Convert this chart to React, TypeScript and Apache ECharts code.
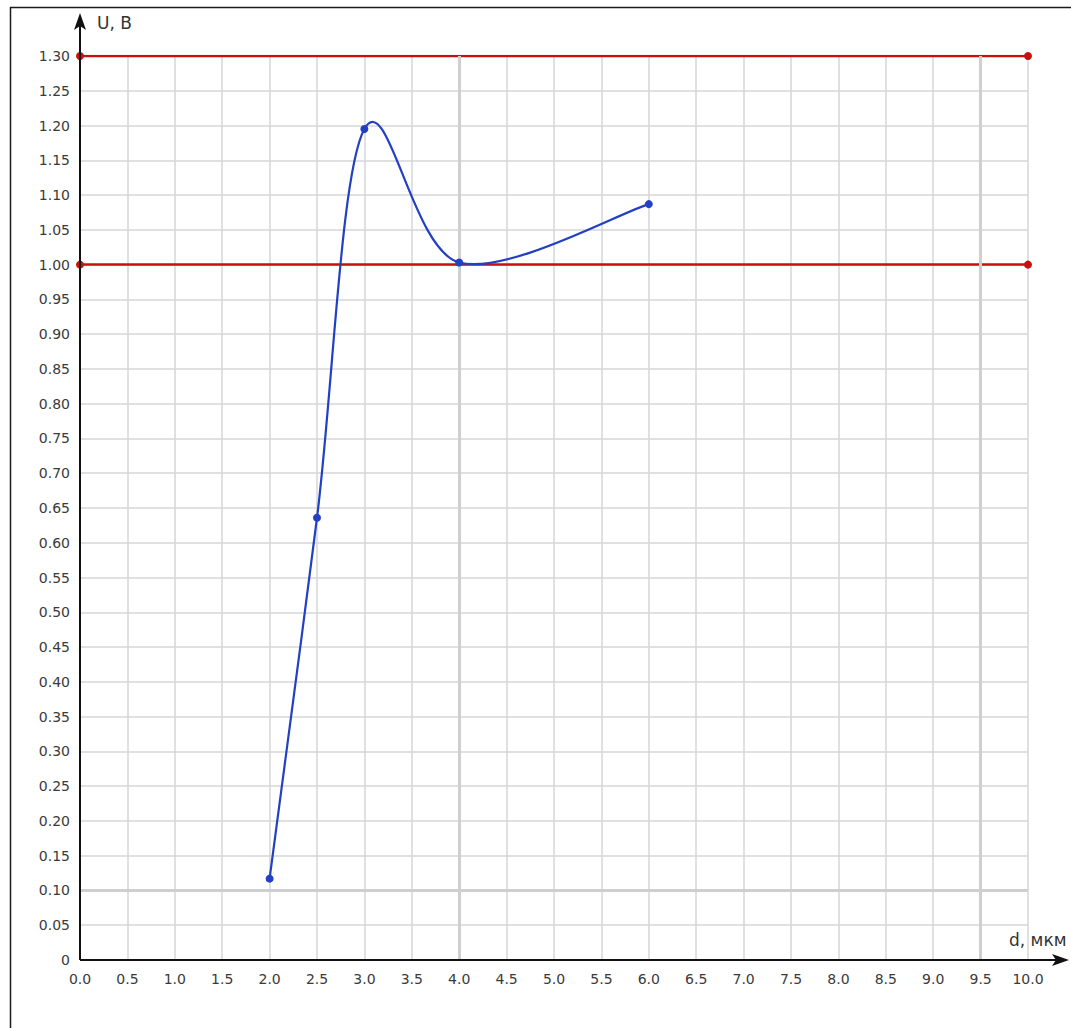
import React, { useEffect, useRef } from "react";
import * as echarts from "echarts";

const dValues = [2.0, 2.5, 3.0, 4.0, 6.0];
const uValues = [0.117, 0.636, 1.195, 1.003, 1.087];
const upperLimit = 1.3;
const lowerLimit = 1.0;
const xRange = [0, 10];
const yRange = [0, 1.3];
const thickX = [4.0, 9.5];
const thickY = [0.1];

const FONT = "Verdana, 'DejaVu Sans', sans-serif";
const BLUE = "#2340c4";
const RED = "#c8100f";

function catmullRomPath(pts: number[][]): string {
  if (!pts.length) return "";
  let d = `M${pts[0][0]},${pts[0][1]}`;
  for (let i = 0; i < pts.length - 1; i++) {
    const p0 = pts[i - 1] || pts[i];
    const p1 = pts[i];
    const p2 = pts[i + 1];
    const p3 = pts[i + 2] || pts[i + 1];
    const c1x = p1[0] + (p2[0] - p0[0]) / 6;
    const c1y = p1[1] + (p2[1] - p0[1]) / 6;
    const c2x = p2[0] - (p3[0] - p1[0]) / 6;
    const c2y = p2[1] - (p3[1] - p1[1]) / 6;
    d += ` C${c1x},${c1y} ${c2x},${c2y} ${p2[0]},${p2[1]}`;
  }
  return d;
}

export default function App() {
  const ref = useRef<HTMLDivElement>(null);
  useEffect(() => {
    if (!ref.current) return;
    const chart = echarts.init(ref.current, undefined, { renderer: "svg" });
    const gridL = 80, gridR = 43, gridT = 56, gridB = 68;
    const H = 1028;
    const axisY = H - gridB;
    const points = dValues.map((d, i) => [d, uValues[i]]);
    chart.setOption({
      animation: false,
      backgroundColor: "#fff",
      grid: { left: gridL, right: gridR, top: gridT, bottom: gridB },
      xAxis: {
        type: "value",
        min: xRange[0],
        max: xRange[1],
        interval: 0.5,
        axisLine: { show: false },
        axisTick: { show: false },
        splitLine: { show: true, lineStyle: { color: "#d6d6d6", width: 1.5 } },
        axisLabel: {
          margin: 12,
          color: "#3a3a3a",
          fontFamily: FONT,
          fontSize: 14,
          formatter: (v: number) => v.toFixed(1),
        },
      },
      yAxis: {
        type: "value",
        min: yRange[0],
        max: yRange[1],
        interval: 0.05,
        axisLine: { show: false },
        axisTick: { show: false },
        splitLine: { show: true, lineStyle: { color: "#d6d6d6", width: 1.5 } },
        axisLabel: {
          margin: 10,
          color: "#3a3a3a",
          fontFamily: FONT,
          fontSize: 14,
          formatter: (v: number) => (v === 0 ? "0" : v.toFixed(2)),
        },
      },
      series: [
        {
          type: "line",
          data: [],
          silent: true,
          markLine: {
            silent: true,
            symbol: ["none", "none"],
            label: { show: false },
            lineStyle: { color: "#cfcfcf", width: 3, type: "solid" },
            data: [
              ...thickX.map((x) => ({ xAxis: x })),
              ...thickY.map((y) => ({ yAxis: y })),
            ],
          },
          z: 1,
        },
        {
          type: "line",
          data: [
            [xRange[0], upperLimit],
            [xRange[1], upperLimit],
          ],
          symbol: "circle",
          symbolSize: 8,
          lineStyle: { color: RED, width: 2.5 },
          itemStyle: { color: RED },
          z: 3,
        },
        {
          type: "line",
          data: [
            [xRange[0], lowerLimit],
            [xRange[1], lowerLimit],
          ],
          symbol: "circle",
          symbolSize: 8,
          lineStyle: { color: RED, width: 2.5 },
          itemStyle: { color: RED },
          z: 3,
        },
        {
          type: "custom",
          data: points,
          encode: { x: 0, y: 1 },
          z: 4,
          renderItem: (params: any, api: any) => {
            if (params.dataIndex !== 0) return null;
            const pix = points.map((p) => api.coord(p));
            return {
              type: "path",
              shape: { pathData: catmullRomPath(pix) },
              style: { fill: "none", stroke: BLUE, lineWidth: 2.2 },
            };
          },
        },
        {
          type: "scatter",
          data: points,
          symbol: "circle",
          symbolSize: 8,
          itemStyle: { color: BLUE, opacity: 1 },
          z: 5,
        },
      ],
      graphic: [
        {
          type: "rect",
          shape: { x: 10.5, y: 7.5, width: 1200, height: 1200 },
          style: { fill: "none", stroke: "#1a1a1a", lineWidth: 1.5 },
          silent: true,
          z: 10,
        },
        {
          type: "line",
          shape: { x1: gridL, y1: axisY, x2: 1060, y2: axisY },
          style: { stroke: "#111", lineWidth: 2 },
          z: 10,
        },
        {
          type: "polygon",
          shape: {
            points: [
              [1069, axisY],
              [1052, axisY - 6],
              [1056, axisY],
              [1052, axisY + 6],
            ],
          },
          style: { fill: "#111" },
          z: 10,
        },
        {
          type: "line",
          shape: { x1: gridL, y1: axisY, x2: gridL, y2: 22 },
          style: { stroke: "#111", lineWidth: 2 },
          z: 10,
        },
        {
          type: "polygon",
          shape: {
            points: [
              [gridL, 13],
              [gridL - 6, 30],
              [gridL, 26],
              [gridL + 6, 30],
            ],
          },
          style: { fill: "#111" },
          z: 10,
        },
        {
          type: "text",
          x: 97,
          y: 23,
          style: {
            text: "U, В",
            fill: "#333",
            font: `17px ${FONT}`,
            verticalAlign: "middle",
            textAlign: "left",
          },
          z: 10,
        },
        {
          type: "text",
          x: 1009,
          y: 940,
          style: {
            text: "d, мкм",
            fill: "#333",
            font: `17px ${FONT}`,
            verticalAlign: "middle",
            textAlign: "left",
          },
          z: 10,
        },
      ],
    });
    return () => chart.dispose();
  }, []);
  return (
    <div
      ref={ref}
      style={{ position: "fixed", left: 0, top: 0, width: 1071, height: 1028 }}
    />
  );
}
